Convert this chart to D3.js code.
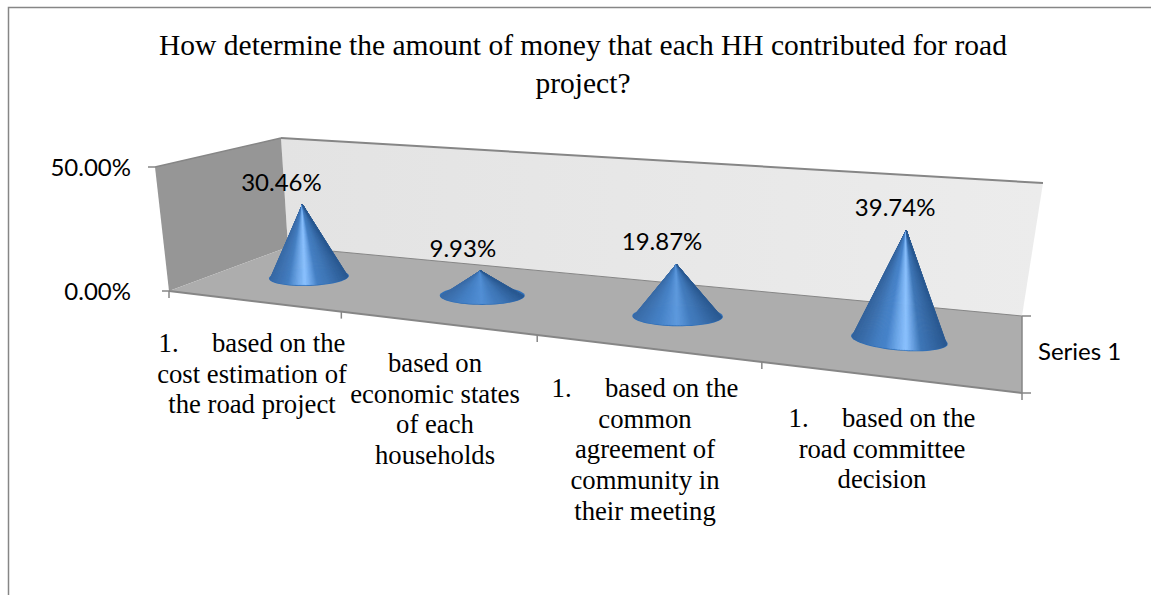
<!DOCTYPE html>
<html>
<head>
<meta charset="utf-8">
<script src="https://d3js.org/d3.v7.min.js"></script>
<style>
    body { margin: 0; background: #fff; }
    svg { display: block; }
    .serif { font-family: "Liberation Serif", serif; fill: #000; }
    .sans { font-family: "Lato", sans-serif; fill: #000; }
</style>
</head>
<body>
<div id="chart-container"></div>
<script>
    // Values
    const titleLines = ['How determine the amount of money that each HH contributed for road', 'project?'];
    const categories = ['cost', 'economic', 'agreement', 'committee'];
    const values = [30.46, 9.93, 19.87, 39.74];
    const valueLabels = ['30.46%', '9.93%', '19.87%', '39.74%'];
    const yTicks = [0, 50];
    const yTickLabels = ['0.00%', '50.00%'];
    const seriesName = 'Series 1';
    const categoryLabels = [
        ['1.     based on the', 'cost estimation of', 'the road project'],
        ['based on', 'economic states', 'of each', 'households'],
        ['1.     based on the', 'common', 'agreement of', 'community in', 'their meeting'],
        ['1.     based on the', 'road committee', 'decision']
    ];
    // cone shading and base tilt differ per cone in the original
    const coneGlow = [1, 0.12, 0.3, 1];
    const coneGlowAt = [0.45, 0.5, 0.5, 0.58];
    const coneLeftDark = [0.1, 0, 0, 1];
    const coneTilt = [-2, 0, 0.5, 5];

    const width = 1151, height = 595;

    const svg = d3.select('#chart-container').append('svg')
        .attr('width', width).attr('height', height);

    // 3D box corners on screen, floor and top plane
    const floorQuad = [[169, 291], [1022, 393], [1022, 316], [288, 247]];
    const topQuad = [[155, 167], [1035, 243], [1043, 183], [281, 138]];

    // unit square -> quad (standard projective map)
    function squareToQuad(q) {
        const [[x0, y0], [x1, y1], [x2, y2], [x3, y3]] = q;
        const dx1 = x1 - x2, dx2 = x3 - x2, sx = x0 - x1 + x2 - x3;
        const dy1 = y1 - y2, dy2 = y3 - y2, sy = y0 - y1 + y2 - y3;
        const det = dx1 * dy2 - dx2 * dy1;
        const g = (sx * dy2 - dx2 * sy) / det;
        const h = (dx1 * sy - sx * dy1) / det;
        const a = x1 - x0 + g * x1, b = x3 - x0 + h * x3;
        const d = y1 - y0 + g * y1, e = y3 - y0 + h * y3;
        return (u, v) => {
            const w = g * u + h * v + 1;
            return [(a * u + b * v + x0) / w, (d * u + e * v + y0) / w];
        };
    }
    const floorMap = squareToQuad(floorQuad);
    const topMap = squareToQuad(topQuad);

    const xScale = d3.scaleBand().domain(categories).range([0, 1]);
    const zScale = d3.scaleLinear().domain([0, 50]).range([0, 1]);

    // the quads alone give too much foreshortening along the front edge
    const warp = (u, m) => u / (u + (1 - u) * m);

    function project(u, v, val) {
        const f = floorMap(warp(u, 0.9436), v), t = topMap(warp(u, 0.84), v), z = zScale(val);
        return [f[0] + (t[0] - f[0]) * z, f[1] + (t[1] - f[1]) * z];
    }
    const poly = pts => 'M' + pts.map(p => p.join(',')).join('L') + 'Z';
    const GRID = '#868686';

    const defs = svg.append('defs');
    const wallGrad = defs.append('linearGradient').attr('id', 'backWall');
    wallGrad.append('stop').attr('offset', '0%').attr('stop-color', '#e3e3e3');
    wallGrad.append('stop').attr('offset', '100%').attr('stop-color', '#ececec');

    // chart frame
    svg.append('path')
        .attr('d', 'M8.5,595V7.5H1151')
        .attr('fill', 'none').attr('stroke', GRID).attr('stroke-width', 1.5);

    // walls and floor
    svg.append('path').attr('fill', 'url(#backWall)')
        .attr('d', poly([project(0, 1, 0), project(1, 1, 0), project(1, 1, 50), project(0, 1, 50)]));
    svg.append('path').attr('fill', '#969696')
        .attr('d', poly([project(0, 0, 0), project(0, 1, 0), project(0, 1, 50), project(0, 0, 50)]));
    svg.append('path').attr('fill', '#adadad')
        .attr('d', poly([project(0, 0, 0), project(1, 0, 0), project(1, 1, 0), project(0, 1, 0)]));

    const edge = (a, b, w) => svg.append('line')
        .attr('x1', a[0]).attr('y1', a[1]).attr('x2', b[0]).attr('y2', b[1])
        .attr('stroke', GRID).attr('stroke-width', w);

    edge(project(0, 0, 50), project(0, 1, 50), 1.5);
    edge(project(0, 1, 50), project(1, 1, 50), 2);
    edge(project(0, 0, 0), project(1, 0, 0), 2);
    edge(project(1, 0, 0), project(1, 1, 0), 1.5);
    edge(project(0, 1, 0), project(1, 1, 0), 1);

    // y ticks and labels
    yTicks.forEach((t, i) => {
        const p = project(0, 0, t);
        edge([p[0] - 7, p[1]], p, 1.5);
        svg.append('text').attr('class', 'sans')
            .attr('x', 131).attr('y', p[1] + 1).attr('dy', '0.35em')
            .attr('text-anchor', 'end').attr('font-size', 24)
            .text(yTickLabels[i]);
    });

    // x ticks along the front floor edge
    categories.concat([null]).forEach((c, i) => {
        const p = project(i / categories.length, 0, 0);
        edge(p, [p[0], p[1] + 7], 1.5);
    });
    // depth ticks on the right
    [0, 1].forEach(v => {
        const p = project(1, v, 0);
        edge(p, [p[0] + 9, p[1]], 1.5);
    });

    // cones, one wedge per facet so the shading runs into the apex
    const shade = d3.scaleLinear()
        .domain([0, 0.25, 0.5, 0.75, 1])
        .range(['#3a6ba6', '#4580c4', '#4a88cf', '#3f76b6', '#2b5a92']);
    const rxScale = d3.scaleLinear().domain([312, 901]).range([40, 48.5]);

    categories.forEach((c, i) => {
        const u = xScale(c) + xScale.bandwidth() / 2;
        const base = project(u, 0.47, 0);
        const apex = project(u, 0.47, values[i]);
        const tilt = coneTilt[i] * Math.PI / 180;
        const rx = rxScale(base[0]);
        const ry = rx * 0.22;
        const rim = (a, shrink) => {
            const ex = (rx - shrink) * Math.cos(a), ey = (ry - shrink) * Math.sin(a);
            return [base[0] + ex * Math.cos(tilt) - ey * Math.sin(tilt),
                    base[1] + ex * Math.sin(tilt) + ey * Math.cos(tilt)];
        };
        const glow = d3.scaleLinear()
            .domain([coneGlowAt[i] - 0.22, coneGlowAt[i], coneGlowAt[i] + 0.16])
            .range([0, 1, 0]).clamp(true);
        const leftDark = d3.scaleLinear().domain([0, 0.3]).range([0.4, 0]).clamp(true);

        const g = svg.append('g');
        const n = 90;
        // lip of the base shows under the cone
        g.append('path').attr('fill', '#2f6fb8')
            .attr('d', poly(d3.range(60).map(k => rim(k / 60 * 2 * Math.PI, 0))));
        d3.range(n).forEach(k => {
            const t = (k + 0.5) / n;
            const a0 = Math.PI * (1 - k / n), a1 = Math.PI * (1 - (k + 1) / n) - 0.01;
            const xf = (1 - Math.cos(Math.PI * t)) / 2;
            const lit = d3.interpolateRgb(shade(xf), '#8cc2ff')(glow(xf) * coneGlow[i]);
            const fill = d3.interpolateRgb(lit, '#2c5a90')(leftDark(xf) * coneLeftDark[i]);
            g.append('path').attr('fill', fill).attr('stroke', fill).attr('stroke-width', 0.6)
                .attr('d', poly([apex, rim(a0, 1.2), rim(a1, 1.2)]));
        });
    });

    // data labels
    valueLabels.forEach((d, i) => {
        const u = xScale(categories[i]) + xScale.bandwidth() / 2;
        const top = project(u, 0.47, values[i]);
        svg.append('text').attr('class', 'sans')
            .attr('x', top[0] - 21 + i * 3.3).attr('y', top[1] - 14)
            .attr('text-anchor', 'middle').attr('font-size', 24)
            .text(d);
    });

    // series label
    svg.append('text').attr('class', 'sans')
        .attr('x', 1038).attr('y', 360).attr('font-size', 24)
        .text(seriesName);

    // title
    titleLines.forEach((d, i) => {
        svg.append('text').attr('class', 'serif')
            .attr('x', 583).attr('y', 55 + i * 38)
            .attr('text-anchor', 'middle').attr('font-size', 29.5)
            .text(d);
    });

    // category labels
    const labelX = [252, 435, 645, 882];
    const labelY = [352, 372, 397, 427];
    const labelStep = 30.7;
    categoryLabels.forEach((lines, i) => {
        lines.forEach((d, k) => {
            svg.append('text').attr('class', 'serif')
                .attr('x', labelX[i]).attr('y', labelY[i] + k * labelStep)
                .attr('text-anchor', 'middle').attr('font-size', 26.7)
                .attr('xml:space', 'preserve').style('white-space', 'pre')
                .text(d);
        });
    });
</script>
</body>
</html>
